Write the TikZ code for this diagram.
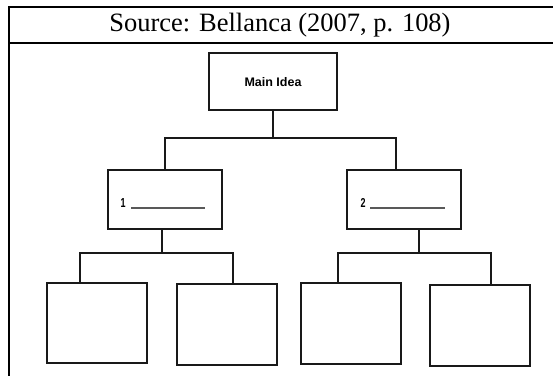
\documentclass[tikz,border=0pt]{standalone}
\usepackage{fontspec}
\setmainfont{Liberation Serif}
\setsansfont{Liberation Sans}
\begin{document}
\begin{tikzpicture}[x=1pt,y=-1pt,
  frameline/.style={line width=1.8pt,black},
  box/.style={draw=black!90,line width=2.1pt,inner sep=0pt,fill=white},
  conn/.style={draw=black!90,line width=2.1pt},
  uline/.style={draw=black!65,line width=1.4pt},
  lbl/.style={inner sep=0pt}]
\useasboundingbox (0,0) rectangle (553,376);
% frame
\coordinate (tl) at (9,7);
\coordinate (tr) at (553,7);
\coordinate (bl) at (9,376);
\coordinate (sl) at (9,43);
\coordinate (sr) at (553,43);
\draw[frameline] (tr) -- (tl) -- (bl);
\draw[frameline,line width=1.3pt] (sl) -- (sr);
\node[inner sep=0pt] (title) at (280,25) {\resizebox{341pt}{!}{Source: Bellanca (2007, p. 108)}};
% level 1
\node[box,minimum width=128pt,minimum height=57pt] (main) at (273,81.5) {};
\node[lbl] (maintext) at (273,82) {\resizebox{57pt}{9pt}{\sffamily\bfseries Main Idea}};
% level 2
\node[box,minimum width=114pt,minimum height=59pt] (l2a) at (165,199.5) {};
\node[box,minimum width=114pt,minimum height=59pt] (l2b) at (404,199.5) {};
\node[lbl] (one) at (123,203) {\resizebox{5pt}{9pt}{\sffamily\bfseries 1}};
\node[lbl] (two) at (363,203) {\resizebox{5pt}{9pt}{\sffamily\bfseries 2}};
\coordinate (u1a) at (131,208); \coordinate (u1b) at (205,208);
\coordinate (u2a) at (370,208); \coordinate (u2b) at (445,208);
\draw[uline] (u1a) -- (u1b);
\draw[uline] (u2a) -- (u2b);
% level 3
\node[box,minimum width=100pt,minimum height=80pt] (l3a) at (97,323) {};
\node[box,minimum width=100pt,minimum height=81pt] (l3b) at (227,324.5) {};
\node[box,minimum width=100pt,minimum height=81pt] (l3c) at (351,323.5) {};
\node[box,minimum width=100pt,minimum height=81pt] (l3d) at (480,325.5) {};
% connectors
\coordinate (j1) at (273,138);
\draw[conn] (main.south) -- (j1);
\draw[conn] ([xshift=-8pt]l2b.north) |- (j1) -| (l2a.north);
\coordinate (j2) at (162,253);
\coordinate (j3) at (419,253);
\draw[conn] ([xshift=-3pt]l2a.south) -- (j2);
\draw[conn] ([xshift=15pt]l2b.south) -- (j3);
\draw[conn] ([xshift=-17pt]l3a.north) |- (j2) -| ([xshift=6pt]l3b.north);
\draw[conn] ([xshift=-13pt]l3c.north) |- (j3) -| ([xshift=11pt]l3d.north);
\end{tikzpicture}
\end{document}
